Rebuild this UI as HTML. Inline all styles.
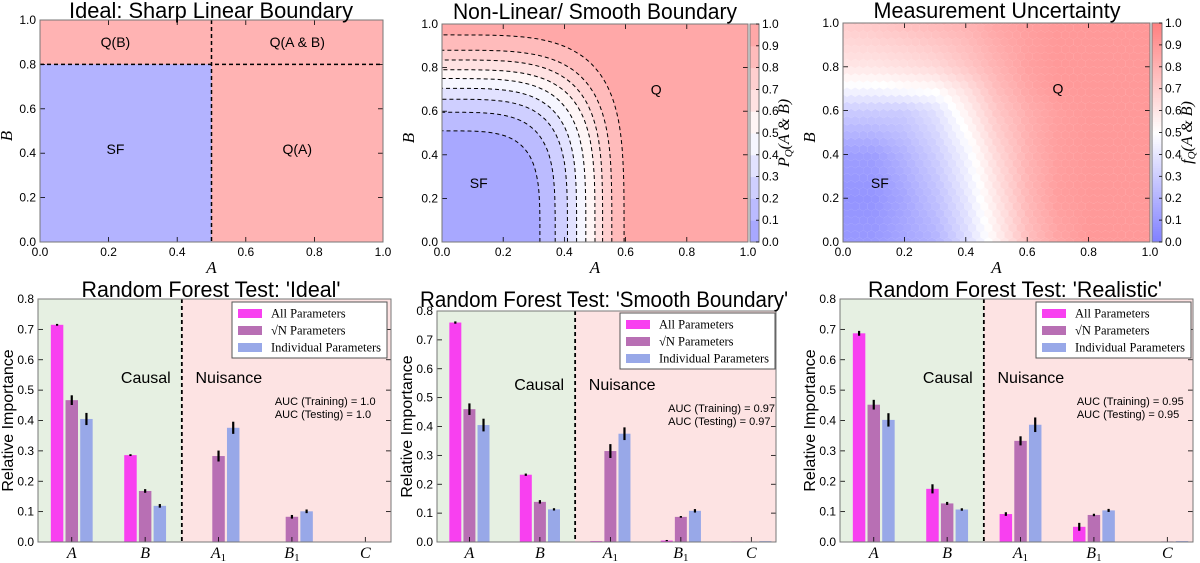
<!DOCTYPE html>
<html><head><meta charset="utf-8"><style>
body{margin:0;background:#fff;}
svg{display:block;font-family:"Liberation Sans",sans-serif;}
.tk{font-size:12px;fill:#000;}
.ser{font-family:"Liberation Serif",serif;font-style:italic;}
</style></head><body>
<svg id="fig" width="1200" height="563" viewBox="0 0 1200 563" xmlns="http://www.w3.org/2000/svg"></svg>
<script>
// ---------- DATA ----------
const categories = ['A','B','A1','B1','C'];
const seriesNames = ['All Parameters','√N Parameters','Individual Parameters'];
const idealAll = [0.715,0.286,0.0,0.0,0.001];
const idealSqrt = [0.467,0.168,0.283,0.083,0.0];
const idealInd = [0.405,0.119,0.376,0.101,0.001];
const idealAllErr = [0.003,0.003,0,0,0];
const idealSqrtErr = [0.016,0.006,0.018,0.006,0];
const idealIndErr = [0.02,0.006,0.02,0.006,0];
const smoothAll = [0.760,0.233,0.003,0.005,0.002];
const smoothSqrt = [0.460,0.139,0.315,0.087,0.002];
const smoothInd = [0.405,0.113,0.375,0.108,0.003];
const smoothAllErr = [0.004,0.004,0,0.002,0];
const smoothSqrtErr = [0.02,0.006,0.024,0.003,0];
const smoothIndErr = [0.022,0.004,0.022,0.006,0];
const realAll = [0.687,0.175,0.092,0.050,0.001];
const realSqrt = [0.452,0.127,0.333,0.089,0.002];
const realInd = [0.402,0.107,0.386,0.104,0.003];
const realAllErr = [0.008,0.015,0.006,0.013,0];
const realSqrtErr = [0.016,0.005,0.015,0.004,0];
const realIndErr = [0.022,0.004,0.024,0.005,0];
const barTicks = [0.0,0.1,0.2,0.3,0.4,0.5,0.6,0.7,0.8];
const unitTicks = [0.0,0.2,0.4,0.6,0.8,1.0];
const cbTicks = [0.0,0.1,0.2,0.3,0.4,0.5,0.6,0.7,0.8,0.9,1.0];
const contourLevels = [0.1,0.2,0.3,0.4,0.5,0.6,0.7,0.8,0.9];
const contourAx = [0.32,0.37,0.41,0.44,0.47,0.50,0.525,0.555,0.595];
const contourBy = [0.51,0.595,0.655,0.705,0.75,0.79,0.835,0.88,0.95];
const uncRowsB = [0.0,0.2,0.4,0.6,0.7,0.8,1.0];
const uncGrid = [
 [0.1,0.1,0.15,0.2,0.35,0.55,0.75,0.85,0.9,0.9,0.9],
 [0.08,0.08,0.15,0.25,0.4,0.6,0.78,0.88,0.9,0.9,0.9],
 [0.12,0.12,0.2,0.3,0.45,0.65,0.8,0.88,0.9,0.9,0.9],
 [0.3,0.3,0.3,0.38,0.55,0.72,0.82,0.88,0.9,0.9,0.9],
 [0.47,0.47,0.5,0.52,0.62,0.76,0.85,0.9,0.9,0.9,0.9],
 [0.6,0.6,0.62,0.65,0.72,0.8,0.87,0.9,0.9,0.9,0.9],
 [0.7,0.72,0.75,0.78,0.8,0.85,0.88,0.9,0.9,0.9,0.9]];

// ---------- HELPERS ----------
const NS='http://www.w3.org/2000/svg';
const svg=document.getElementById('fig');
function mk(tag,attrs,parent){const e=document.createElementNS(NS,tag);for(const k in attrs)e.setAttribute(k,attrs[k]);(parent||svg).appendChild(e);return e;}
function txt(s,x,y,attrs,parent){const e=mk('text',Object.assign({x:x,y:y},attrs||{}),parent);e.textContent=s;return e;}
function bwr(v,alpha){let r,g,b;if(v<0.5){r=g=Math.round(255*v*2);b=255;}else{r=255;g=b=Math.round(255*(1-v)*2);}
 r=Math.round(255*(1-alpha)+r*alpha);g=Math.round(255*(1-alpha)+g*alpha);b=Math.round(255*(1-alpha)+b*alpha);return `rgb(${r},${g},${b})`;}

function unitAxes(g,x0,x1,y0,y1){
 const sx=v=>x0+(x1-x0)*v, sy=v=>y1-(y1-y0)*v;
 unitTicks.forEach(t=>{
  const xt=txt(t.toFixed(1),sx(t),y1+14,{class:'tk','text-anchor':'middle'},g);
  
  const yt=txt(t.toFixed(1),x0-4,sy(t)+4,{class:'tk','text-anchor':'end'},g);
  
  mk('line',{x1:sx(t),x2:sx(t),y1:y1,y2:y1-5,stroke:'#000','stroke-width':0.8},g);
  mk('line',{x1:sx(t),x2:sx(t),y1:y0,y2:y0+5,stroke:'#000','stroke-width':0.8},g);
  mk('line',{x1:x0,x2:x0+5,y1:sy(t),y2:sy(t),stroke:'#000','stroke-width':0.8},g);
  mk('line',{x1:x1,x2:x1-5,y1:sy(t),y2:sy(t),stroke:'#000','stroke-width':0.8},g);
 });
 mk('rect',{x:x0,y:y0,width:x1-x0,height:y1-y0,fill:'none',stroke:'#777','stroke-width':1},g);
 const xl=txt('A',(x0+x1)/2,y1+31,{class:'ser','font-size':17,'text-anchor':'middle'},g);
 
 const yl=txt('B',0,0,{class:'ser','font-size':17,'text-anchor':'middle',transform:`translate(${x0-28},${(y0+y1)/2+5}) rotate(-90)`},g);
 
 return {sx,sy};
}
function colorbar(g,x0,x1,y0,y1,alpha,letter,steps){
 const n=steps||100;
 for(let i=0;i<n;i++){const v=(i+0.5)/n;const h=(y1-y0)/n;
  mk('rect',{x:x0,y:y1-(i+1)*h,width:x1-x0,height:h+0.5,fill:bwr(v,alpha),stroke:'none'},g);}
 mk('rect',{x:x0,y:y0,width:x1-x0,height:y1-y0,fill:'none',stroke:'#777'},g);
 cbTicks.forEach(t=>{const y=y1-(y1-y0)*t;
  mk('line',{x1:x1,x2:x1-3,y1:y,y2:y,stroke:'#000','stroke-width':0.8},g);
  const e=txt(t.toFixed(1),x1+3,y+4,{class:'tk','font-size':11},g);
  });
 const l=mk('text',{x:0,y:0,class:'ser','font-size':16,'text-anchor':'middle',transform:`translate(${x1+30},${(y0+y1)/2}) rotate(-90)`},g);
 
 l.appendChild(document.createTextNode(letter));
 const s=mk('tspan',{'font-size':11,dy:3},l);s.textContent='Q';
 const r=mk('tspan',{dy:-3},l);r.textContent='(A & B)';
}
function title(s,cx,y,w,g){const e=txt(s,cx,y,{'font-size':22,'text-anchor':'middle',textLength:w,lengthAdjust:'spacingAndGlyphs'},g);
 }

// ---------- PANEL 1 ----------
(function(){
 const g=mk('g',{});
 const x0=40,x1=383,y0=20,y1=242;const sx=v=>x0+(x1-x0)*v, sy=v=>y1-(y1-y0)*v;
 mk('rect',{x:x0,y:y0,width:x1-x0,height:y1-y0,fill:'#ffb3b3'},g);
 const sf=mk('rect',{x:x0,y:sy(0.8),width:sx(0.5)-x0,height:y1-sy(0.8),fill:'#b3b3ff'},g);
 
 mk('line',{x1:sx(0.5),x2:sx(0.5),y1:y0,y2:y1,stroke:'#000','stroke-width':1.5,'stroke-dasharray':'4,3'},g);
 mk('line',{x1:x0,x2:x1,y1:sy(0.8),y2:sy(0.8),stroke:'#000','stroke-width':1.5,'stroke-dasharray':'4,3'},g);
 [['Q(B)',0.22,0.9],['Q(A & B)',0.75,0.9],['SF',0.22,0.42],['Q(A)',0.75,0.42]].forEach(d=>{
  const e=txt(d[0],sx(d[1]),sy(d[2])+5,{'font-size':14,'text-anchor':'middle'},g);
  });
 unitAxes(g,x0,x1,y0,y1);
 title('Ideal: Sharp Linear Boundary',211,18,284,g);
})();

// ---------- PANEL 2 ----------
(function(){
 const g=mk('g',{});
 const x0=442,x1=748,y0=24,y1=242;const sx=v=>x0+(x1-x0)*v, sy=v=>y1-(y1-y0)*v;
 const alpha=0.38;
 mk('rect',{x:x0,y:y0,width:x1-x0,height:y1-y0,fill:bwr(0.95,alpha)},g);
 function curve(a,b){let pts=[];const n=4;for(let i=0;i<=40;i++){const t=i/40*Math.PI/2;
   pts.push([sx(a*Math.pow(Math.cos(t),2/n)),sy(b*Math.pow(Math.sin(t),2/n))]);}return pts;}
 for(let i=contourLevels.length-1;i>=0;i--){
  const p=curve(contourAx[i],contourBy[i]);
  const d='M'+sx(0)+','+sy(0)+' L'+p.map(q=>q[0].toFixed(1)+','+q[1].toFixed(1)).join(' L')+' Z';
  const band=mk('path',{d:d,fill:bwr(contourLevels[i]-0.05,alpha)},g);
  
 }
 for(let i=0;i<contourLevels.length;i++){
  const p=curve(contourAx[i],contourBy[i]);
  const ln=mk('polyline',{points:p.map(q=>q[0].toFixed(1)+','+q[1].toFixed(1)).join(' '),fill:'none',stroke:'#000','stroke-width':1,'stroke-dasharray':'4,3'},g);
  
 }
 let e=txt('SF',sx(0.12),sy(0.27)+5,{'font-size':14,'text-anchor':'middle'},g);
 e=txt('Q',sx(0.7),sy(0.7)+5,{'font-size':14,'text-anchor':'middle'},g);
 unitAxes(g,x0,x1,y0,y1);
 colorbar(g,750,759,y0,y1,alpha,'P',10);
 title('Non-Linear/ Smooth Boundary',595,19,284,g);
})();

// ---------- PANEL 3 ----------
(function(){
 const g=mk('g',{});
 const x0=843,x1=1150,y0=23,y1=242;const sx=v=>x0+(x1-x0)*v, sy=v=>y1-(y1-y0)*v;
 const alpha=0.5;
 const clip=mk('clipPath',{id:'hexclip'},g);mk('rect',{x:x0,y:y0,width:x1-x0,height:y1-y0},clip);
 const hg=mk('g',{'clip-path':'url(#hexclip)'},g);
 mk('rect',{x:x0,y:y0,width:x1-x0,height:y1-y0,fill:'#fff'},hg);
 function val(a,b){a=Math.min(1,Math.max(0,a));b=Math.min(1,Math.max(0,b));
  const ci=Math.min(9,Math.floor(a*10));const fa=a*10-ci;
  let r=0;while(r<uncRowsB.length-2&&b>uncRowsB[r+1])r++;
  const fb=(b-uncRowsB[r])/(uncRowsB[r+1]-uncRowsB[r]);
  const v0=uncGrid[r][ci]*(1-fa)+uncGrid[r][ci+1]*fa, v1=uncGrid[r+1][ci]*(1-fa)+uncGrid[r+1][ci+1]*fa;
  return v0*(1-fb)+v1*fb;}
 const nx=38,dxp=(x1-x0)/nx,R=dxp/Math.sqrt(3)*1.02,dyp=R*1.5;
 const ny=Math.ceil((y1-y0)/dyp)+1;
 for(let j=0;j<=ny;j++){for(let i=-1;i<=nx+1;i++){
  const cx=x0+i*dxp+(j%2?dxp/2:0), cy=y1-j*dyp;
  const v=val((cx-x0)/(x1-x0),(y1-cy)/(y1-y0));
  let pts=[];for(let k=0;k<6;k++){const t=Math.PI/6+k*Math.PI/3;pts.push((cx+R*Math.cos(t)).toFixed(1)+','+(cy+R*Math.sin(t)).toFixed(1));}
  const h=mk('polygon',{points:pts.join(' '),fill:bwr(v,alpha)},hg);
  
 }}
 let e=txt('SF',sx(0.12),sy(0.27)+5,{'font-size':14,'text-anchor':'middle'},g);
 e=txt('Q',sx(0.7),sy(0.7)+5,{'font-size':14,'text-anchor':'middle'},g);
 unitAxes(g,x0,x1,y0,y1);
 colorbar(g,1152,1162,y0,y1,alpha,'f',100);
 title('Measurement Uncertainty',997,18,247,g);
})();

// ---------- BAR PANELS ----------
const barColors=['#f840f0','#b86fb4','#98a8e8'];
function barPanel(cfg){
 const g=mk('g',{});
 const {x0,x1,y0,y1}=cfg;const xmin=-0.46,xmax=4.35;
 const sx=v=>x0+(x1-x0)*(v-xmin)/(xmax-xmin), sy=v=>y1-(y1-y0)*v/0.8;
 const mid=sx(1.5);
 mk('rect',{x:x0,y:y0,width:mid-x0,height:y1-y0,fill:'#e6f0e2'},g);
 mk('rect',{x:mid,y:y0,width:x1-mid,height:y1-y0,fill:'#fde3e3'},g);
 const unit=(x1-x0)/(xmax-xmin),bw=0.17*unit;
 const series=[cfg.all,cfg.sqrt,cfg.ind],errs=[cfg.allE,cfg.sqrtE,cfg.indE];
 series.forEach((s,si)=>{s.forEach((v,ci)=>{
  const cx=sx(ci+(si-1)*0.2);
  const r=mk('rect',{x:cx-bw/2,y:sy(v),width:bw,height:y1-sy(v),fill:barColors[si]},g);
  
  const er=errs[si][ci];
  if(er>0){const l=mk('line',{x1:cx,x2:cx,y1:sy(v+er),y2:sy(Math.max(0,v-er)),stroke:'#000','stroke-width':2.2},g);
   }
 });});
 mk('line',{x1:mid,x2:mid,y1:y0,y2:y1,stroke:'#000','stroke-width':1.8,'stroke-dasharray':'4,3'},g);
 barTicks.forEach(t=>{const y=sy(t);
  mk('line',{x1:x0,x2:x0+5,y1:y,y2:y,stroke:'#000','stroke-width':0.8},g);
  mk('line',{x1:x1,x2:x1-5,y1:y,y2:y,stroke:'#000','stroke-width':0.8},g);
  const e=txt(t.toFixed(1),x0-4,y+4,{class:'tk','font-size':11,'text-anchor':'end'},g);
  });
 categories.forEach((c,ci)=>{const x=sx(ci);
  mk('line',{x1:x,x2:x,y1:y1,y2:y1-5,stroke:'#000','stroke-width':0.8},g);
  const e=mk('text',{x:x,y:y1+16,class:'ser','font-size':16,'text-anchor':'middle'},g);
  
  e.textContent=c[0];
  if(c.length>1){const sp=mk('tspan',{'font-size':11,dy:3,'font-style':'normal'},e);sp.textContent=c.slice(1);}
 });
 mk('rect',{x:x0,y:y0,width:x1-x0,height:y1-y0,fill:'none',stroke:'#777'},g);
 const yl=txt('Relative Importance',0,0,{'font-size':16,'text-anchor':'middle',transform:`translate(${x0-25},${(y0+y1)/2}) rotate(-90)`},g);
 
 let e=txt('Causal',mid-36,cfg.ty,{'font-size':16,'text-anchor':'middle'},g);
 e=txt('Nuisance',mid+47,cfg.ty,{'font-size':16,'text-anchor':'middle'},g);
 e=txt(cfg.auc1,mid+93,cfg.ty+22,{'font-size':11},g);
 e=txt(cfg.auc2,mid+93,cfg.ty+35,{'font-size':11},g);
 const lg=mk('g',{},g);
 mk('rect',{x:cfg.lx,y:cfg.ly,width:155,height:56,fill:'#fff',stroke:'#555'},lg);
 seriesNames.forEach((s,i)=>{const yy=cfg.ly+11+i*17;
  const sw=mk('rect',{x:cfg.lx+6,y:yy-4,width:24,height:9,fill:barColors[i]},lg);
  
  const t=txt(s,cfg.lx+39,yy+4.5,{'font-family':'Liberation Serif, serif','font-size':12.5},lg);
  });
 title(cfg.title,cfg.tcx,cfg.tty,cfg.tw,g);
}
barPanel({name:'rf-ideal-chart',x0:38,x1:391,y0:299,y1:542,all:idealAll,sqrt:idealSqrt,ind:idealInd,allE:idealAllErr,sqrtE:idealSqrtErr,indE:idealIndErr,
 ty:383,auc1:'AUC (Training) = 1.0',auc2:'AUC (Testing) = 1.0',lx:232,ly:302,title:"Random Forest Test: 'Ideal'",tcx:211,tty:297,tw:259});
barPanel({name:'rf-smooth-chart',x0:437,x1:776,y0:311,y1:542,all:smoothAll,sqrt:smoothSqrt,ind:smoothInd,allE:smoothAllErr,sqrtE:smoothSqrtErr,indE:smoothIndErr,
 ty:390,auc1:'AUC (Training) = 0.97',auc2:'AUC (Testing) = 0.97',lx:620,ly:313,title:"Random Forest Test: 'Smooth Boundary'",tcx:604,tty:307,tw:368});
barPanel({name:'rf-realistic-chart',x0:840,x1:1193,y0:299,y1:542,all:realAll,sqrt:realSqrt,ind:realInd,allE:realAllErr,sqrtE:realSqrtErr,indE:realIndErr,
 ty:383,auc1:'AUC (Training) = 0.95',auc2:'AUC (Testing) = 0.95',lx:1036,ly:302,title:"Random Forest Test: 'Realistic'",tcx:1015,tty:297,tw:294});
</script>
</body></html>
